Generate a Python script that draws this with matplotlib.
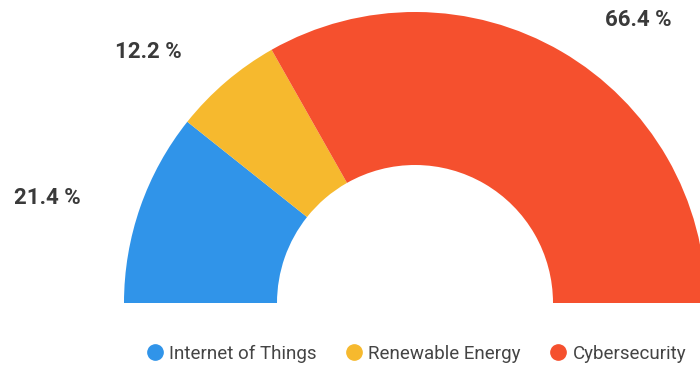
import matplotlib.pyplot as plt
from matplotlib.lines import Line2D

categories = ['Internet of Things', 'Renewable Energy', 'Cybersecurity']
shares = [21.4, 12.2, 66.4]
labels = ['21.4 %', '12.2 %', '66.4 %']
colors = ['#3094E9', '#F6B92E', '#F5502E']

plt.rcParams['font.family'] = ['Roboto', 'DejaVu Sans']

fig = plt.figure(figsize=(7, 3.67), dpi=100)
ax = fig.add_axes([0, 0, 1, 1])

# half donut: pad the pie with an invisible wedge equal to the total
vals = shares + [sum(shares)]
wedges, _ = ax.pie(vals, colors=colors + ['none'], startangle=180, counterclock=False,
                   radius=291, center=(415, 64),
                   wedgeprops=dict(width=153, linewidth=0))
ax.set_xlim(0, 700)
ax.set_ylim(0, 367)
ax.set_aspect('equal')
ax.axis('off')

label_pos = [(47, 169), (148, 315), (638, 347)]
for (x, y), txt in zip(label_pos, labels):
    ax.text(x, y, txt, ha='center', va='center', fontsize=16,
            fontweight='bold', color='#3a3a3a')

handles = [Line2D([], [], marker='o', linestyle='none', markersize=11,
                  markerfacecolor=c, markeredgecolor=c) for c in colors]
leg = ax.legend(handles, categories, loc='center', bbox_to_anchor=(416 / 700, 13 / 367),
                ncol=3, frameon=False, fontsize=13.5, handletextpad=0.25,
                columnspacing=1.5, handlelength=1.0)
for t in leg.get_texts():
    t.set_color('#444444')

fig.savefig('out.png', dpi=100)
